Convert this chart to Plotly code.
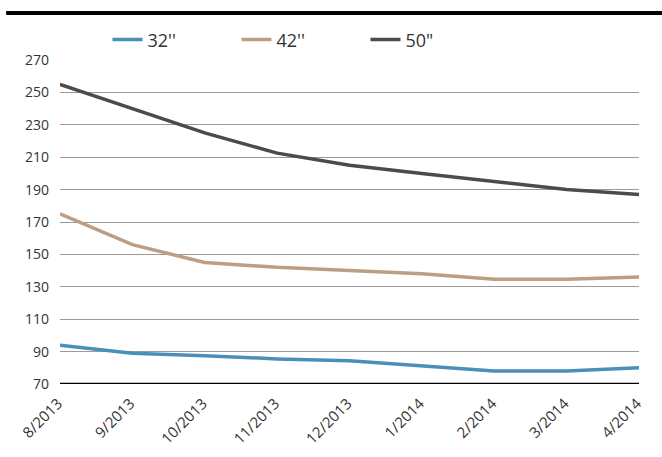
import plotly.graph_objects as go

months = ["8/2013", "9/2013", "10/2013", "11/2013", "12/2013", "1/2014", "2/2014", "3/2014", "4/2014"]
s32 = [94, 89, 87.5, 85.5, 84.3, 81, 78, 78, 80]
s42 = [175, 156, 145, 142, 140, 138, 134.6, 134.6, 136]
s50 = [255, 240, 225, 212.5, 205, 200, 195, 190, 187]
names = ["32''", "42''", '50"']
colors = ["#4a8fb8", "#bb9e84", "#4f4a45"]

fig = go.Figure()
for name, vals, c in zip(names, [s32, s42, s50], colors):
    fig.add_trace(go.Scatter(x=months, y=vals, name=name, mode="lines",
                             line=dict(color=c, width=3.5)))

fig.update_layout(
    width=662, height=457,
    margin=dict(l=60, r=23, t=60, b=73),
    plot_bgcolor="white", paper_bgcolor="white",
    font=dict(family="Open Sans, sans-serif", color="#333333", size=14),
    showlegend=True,
    legend=dict(orientation="h", x=0.082, y=1.062, xanchor="left", yanchor="middle",
                font=dict(size=18, color="#333333"),
                entrywidth=84, entrywidthmode="pixels", itemwidth=30),
    xaxis=dict(showgrid=False, tickangle=-45, ticks="", range=[0, 8], automargin=False,
               showline=False, tickfont=dict(size=15), zeroline=False,
               ticklabelstandoff=7, ticklabelshift=-2),
    yaxis=dict(range=[70, 270], tickvals=list(range(70, 271, 20)), automargin=False,
               showgrid=True, gridcolor="#9a9a9a", gridwidth=1.2, zeroline=False,
               ticks="", tickfont=dict(size=14), showline=False, ticklabelstandoff=10),
)
fig.add_shape(type="line", xref="paper", yref="y", x0=0, x1=1, y0=70, y1=70,
              line=dict(color="black", width=2.5))
fig.add_shape(type="line", xref="paper", yref="paper", x0=-0.093, x1=1.04, y0=1.145, y1=1.145,
              line=dict(color="black", width=4))
fig.write_html("out.html", post_script="document.body.style.margin='0';",
               config={"displayModeBar": False})
